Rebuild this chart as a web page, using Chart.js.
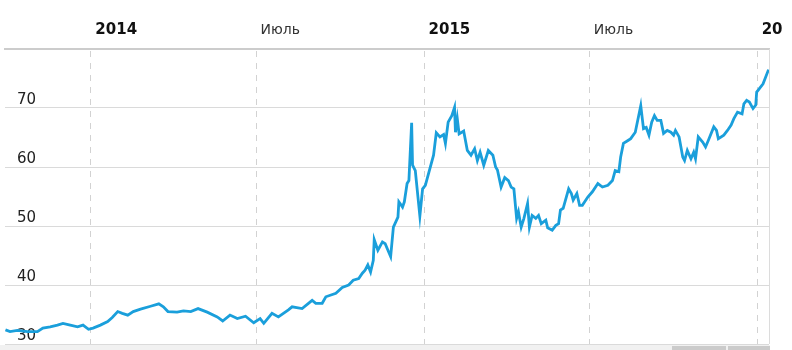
<!DOCTYPE html>
<html>
<head>
<meta charset="utf-8">
<script src="https://cdn.jsdelivr.net/npm/chart.js@4"></script>
<style>
  body { margin: 0; background: #fff; }
  #wrap { position: relative; width: 783px; height: 350px; overflow: hidden; }
</style>
</head>
<body>
<div id="wrap"><canvas id="rateChart"></canvas></div>
<script>
// USD/RUB
const dates = [
  '2013-09-30','2013-10-05','2013-10-13','2013-10-24','2013-11-04','2013-11-10','2013-11-18','2013-11-26',
  '2013-12-02','2013-12-10','2013-12-18','2013-12-24','2013-12-30',
  '2014-01-04','2014-01-12','2014-01-20','2014-01-25','2014-01-31','2014-02-05','2014-02-11','2014-02-17',
  '2014-02-25','2014-03-08','2014-03-17','2014-03-22','2014-03-27','2014-04-06','2014-04-13','2014-04-21',
  '2014-04-29','2014-05-09','2014-05-20','2014-05-26','2014-06-03','2014-06-11','2014-06-20','2014-06-29',
  '2014-07-06','2014-07-10','2014-07-19','2014-07-26','2014-08-06','2014-08-10','2014-08-21','2014-09-01',
  '2014-09-05','2014-09-12','2014-09-16','2014-09-27','2014-10-04','2014-10-11','2014-10-16','2014-10-22',
  '2014-10-26','2014-10-29','2014-11-01','2014-11-04','2014-11-07','2014-11-08','2014-11-12','2014-11-17',
  '2014-11-20','2014-11-26','2014-11-29','2014-12-04','2014-12-05','2014-12-09','2014-12-11','2014-12-14',
  '2014-12-16','2014-12-19','2014-12-20','2014-12-23','2014-12-28','2014-12-31',
  '2015-01-03','2015-01-12','2015-01-15','2015-01-19','2015-01-23','2015-01-25','2015-01-28','2015-02-01',
  '2015-02-04','2015-02-05','2015-02-07','2015-02-09','2015-02-14','2015-02-18','2015-02-22','2015-02-26',
  '2015-03-01','2015-03-04','2015-03-08','2015-03-13','2015-03-18','2015-03-21','2015-03-23','2015-03-27',
  '2015-03-31','2015-04-04','2015-04-07','2015-04-10','2015-04-13','2015-04-15','2015-04-18','2015-04-21',
  '2015-04-25','2015-04-27','2015-04-30','2015-05-04','2015-05-07','2015-05-10','2015-05-15','2015-05-17',
  '2015-05-22','2015-05-26','2015-05-29','2015-05-31','2015-06-03','2015-06-09','2015-06-12','2015-06-14',
  '2015-06-18','2015-06-21','2015-06-24','2015-06-30','2015-07-05','2015-07-11','2015-07-16','2015-07-22',
  '2015-07-27','2015-07-30','2015-08-03','2015-08-05','2015-08-08','2015-08-13','2015-08-16','2015-08-21',
  '2015-08-27','2015-08-30','2015-09-02','2015-09-05','2015-09-08','2015-09-11','2015-09-14','2015-09-18',
  '2015-09-21','2015-09-25','2015-09-29','2015-10-02','2015-10-04','2015-10-08','2015-10-12','2015-10-14',
  '2015-10-17','2015-10-21','2015-10-24','2015-10-26','2015-10-29','2015-11-03','2015-11-06','2015-11-09',
  '2015-11-15','2015-11-18','2015-11-20','2015-11-26','2015-11-30','2015-12-04','2015-12-07','2015-12-11',
  '2015-12-16','2015-12-18','2015-12-21','2015-12-24','2015-12-28','2015-12-31',
  '2016-01-01','2016-01-08','2016-01-14'
];
const rates = [
  32.4, 32.1, 32.3, 32.1, 32.1, 32.7, 32.9, 33.2,
  33.5, 33.2, 32.9, 33.2, 32.5,
  32.7, 33.2, 33.8, 34.5, 35.5, 35.2, 34.9, 35.5,
  35.9, 36.4, 36.8, 36.3, 35.5, 35.4, 35.6, 35.5,
  36.0, 35.4, 34.6, 33.9, 34.9, 34.3, 34.7, 33.6,
  34.3, 33.5, 35.2, 34.6, 35.8, 36.3, 36.0, 37.4,
  36.9, 36.9, 38.0, 38.6, 39.6, 40.0, 40.8, 41.1,
  42.0, 42.5, 43.4, 42.2, 44.2, 47.7, 45.9, 47.3,
  47.0, 44.8, 49.8, 51.5, 54.1, 53.2, 54.1, 57.2,
  57.7, 67.5, 60.3, 59.4, 51.7, 56.3,
  56.9, 62.0, 65.8, 65.1, 65.5, 64.0, 67.6, 68.7,
  70.1, 65.9, 68.2, 65.6, 66.1, 62.8, 62.0, 63.1,
  61.1, 62.5, 60.3, 62.8, 62.0, 60.0, 59.5, 56.6,
  58.2, 57.7, 56.6, 56.3, 51.3, 52.4, 49.8, 51.3,
  53.8, 49.8, 51.8, 51.3, 51.8, 50.4, 51.0, 49.7,
  49.3, 50.1, 50.4, 52.7, 53.0, 56.3, 55.5, 54.4,
  55.5, 53.5, 53.5, 54.9, 55.8, 57.2, 56.6, 56.9,
  57.7, 59.4, 59.2, 61.7, 64.0, 64.5, 64.8, 65.9,
  70.4, 66.5, 66.7, 65.4, 67.6, 68.7, 67.9, 67.9,
  65.7, 66.2, 65.9, 65.4, 66.2, 65.1, 61.7, 61.1,
  62.8, 61.4, 62.5, 61.4, 65.1, 64.2, 63.4, 64.5,
  66.8, 66.2, 64.8, 65.4, 66.2, 67.1, 68.2, 69.3,
  69.0, 70.7, 71.3, 71.0, 69.9, 70.5,
  72.7, 74.1, 76.5
];
const tickDates = ['2014-01-01', '2014-07-01', '2015-01-01', '2015-07-01', '2016-01-01'];
const tickLabels = ['2014', 'Июль', '2015', 'Июль', '2016'];
const yTicks = [30, 40, 50, 60, 70, 80];

const DAY = 86400000;
const START = Date.UTC(2014, 0, 1);
function dayOf(s) {
    const p = s.split('-');
    return Math.round((Date.UTC(+p[0], p[1] - 1, +p[2]) - START) / DAY);
}

const tickDays = tickDates.map(dayOf);
function labelFor(v) {
    const i = tickDays.indexOf(v);
    return i < 0 ? '' : tickLabels[i];
}
function isYear(v) {
    return /^\d+$/.test(labelFor(v));
}

const FONT = "'DejaVu Sans', Verdana, sans-serif";

// dashed verticals at the x ticks, right border and the navigator strip under the plot
const framePlugin = {
    id: 'frame',
    beforeDatasetsDraw(chart) {
        const ctx = chart.ctx;
        const a = chart.chartArea;
        const xs = chart.scales.x;
        ctx.save();
        ctx.strokeStyle = '#d2d2d2';
        ctx.lineWidth = 1;
        ctx.setLineDash([6, 6]);
        xs.ticks.forEach(t => {
            const px = Math.round(xs.getPixelForValue(t.value)) + 0.5;
            ctx.beginPath();
            ctx.moveTo(px, a.top + 2);
            ctx.lineTo(px, a.bottom);
            ctx.stroke();
        });
        ctx.restore();
    },
    afterDraw(chart) {
        const ctx = chart.ctx;
        const a = chart.chartArea;
        ctx.save();
        ctx.strokeStyle = '#dcdcdc';
        ctx.lineWidth = 1;
        ctx.beginPath();
        ctx.moveTo(a.right + 0.5, a.top);
        ctx.lineTo(a.right + 0.5, a.bottom);
        ctx.stroke();
        ctx.fillStyle = '#f1f1f1';
        ctx.fillRect(0, a.bottom + 1, a.right + 1, 6);
        ctx.fillStyle = '#cbcbcb';
        ctx.fillRect(a.right - 97, a.bottom + 2, 54, 6);
        ctx.fillRect(a.right - 41, a.bottom + 2, 42, 6);
        ctx.restore();
    }
};

const points = dates.map((d, i) => ({ x: dayOf(d), y: rates[i] }));

new Chart(document.getElementById('rateChart'), {
    type: 'line',
    data: {
        datasets: [{
            data: points,
            borderColor: '#1a9fdb',
            borderWidth: 2.8,
            pointRadius: 0,
            tension: 0,
            fill: false,
        }],
    },
    options: {
        responsive: true,
        maintainAspectRatio: false,
        animation: false,
        layout: { padding: { left: 5, right: 14, top: 0, bottom: 6 } },
        plugins: { legend: { display: false }, tooltip: { enabled: false } },
        scales: {
            x: {
                type: 'linear',
                position: 'top',
                min: dayOf('2013-09-30') - 0.5,
                max: dayOf('2016-01-14') + 0.5,
                afterBuildTicks: scale => { scale.ticks = tickDays.map(v => ({ value: v })); },
                afterFit: scale => {
                    scale.height = 49;
                    scale.paddingLeft = 0;
                    scale.paddingRight = 0;
                },
                grid: { display: false },
                border: { display: true, color: '#cccccc', width: 2 },
                ticks: {
                    autoSkip: false,
                    maxRotation: 0,
                    align: 'start',
                    labelOffset: 5,
                    padding: 2,
                    callback: v => labelFor(v),
                    color: ctx => (ctx.tick && isYear(ctx.tick.value) ? '#111' : '#333'),
                    font: ctx => (ctx.tick && isYear(ctx.tick.value)
                        ? { family: FONT, size: 15, weight: 'bold' }
                        : { family: FONT, size: 14 }),
                },
            },
            y: {
                min: 30,
                max: 80,
                afterBuildTicks: scale => { scale.ticks = yTicks.map(v => ({ value: v })); },
                afterFit: scale => {
                    scale.width = 0;
                    scale.paddingTop = 0;
                    scale.paddingBottom = 0;
                },
                grid: { color: '#dadada', lineWidth: 1, drawTicks: false },
                border: { display: false },
                ticks: {
                    mirror: true,
                    padding: 12,
                    labelOffset: -8,
                    color: '#222',
                    font: { family: FONT, size: 15 },
                    callback: v => (v === 80 ? '' : String(v)),
                },
            },
        },
    },
    plugins: [framePlugin],
});
</script>
</body>
</html>
